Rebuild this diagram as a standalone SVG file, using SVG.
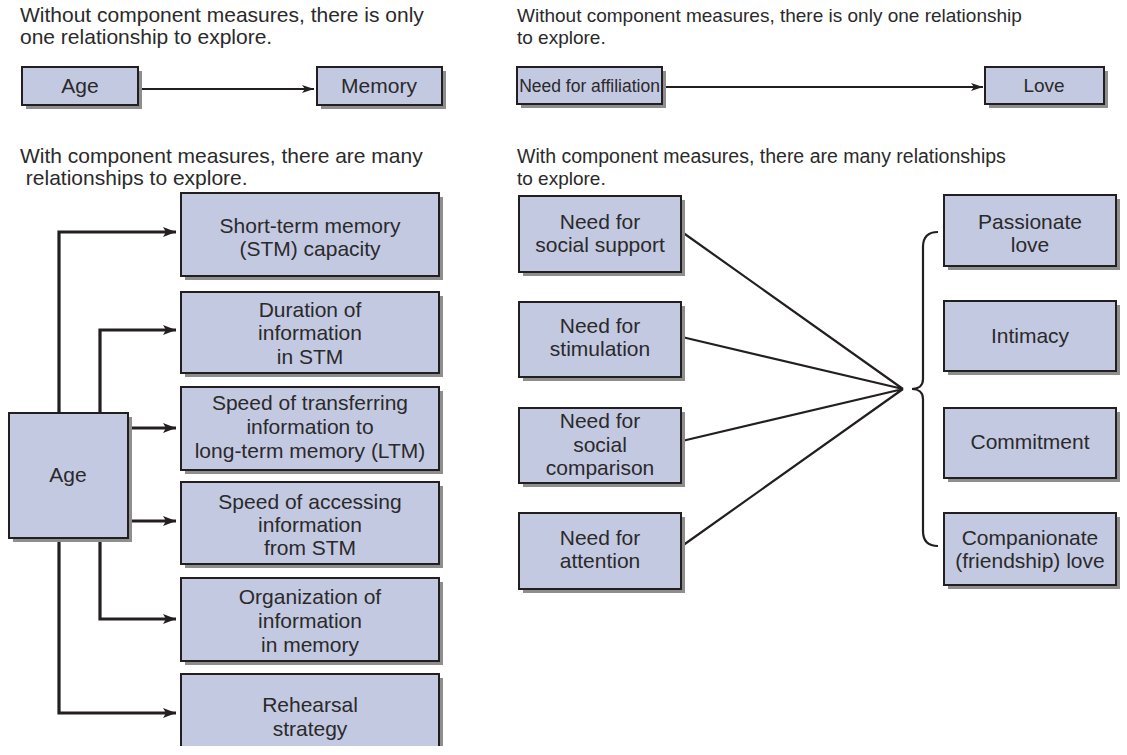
<svg xmlns="http://www.w3.org/2000/svg" width="1127" height="755" viewBox="0 0 1127 755">
<defs>
<style>
.t{font-family:"Liberation Sans",Arial,sans-serif;fill:#2a2a2a}
.l21{font-size:21px}
.l19{font-size:19px}
.c{text-anchor:middle}
.box{fill:#c4c9e2;stroke:#231f20;stroke-width:2}
.sh{fill:#8e8e8e}
.thick{fill:none;stroke:#231f20;stroke-width:3.2}
.thin{fill:none;stroke:#231f20;stroke-width:2.2}
</style>
<marker id="ah" viewBox="0 0 13 10" refX="13" refY="5" markerWidth="13" markerHeight="10" markerUnits="userSpaceOnUse" orient="auto"><path d="M0,0 L13,5 L0,10 L3,5 Z" fill="#231f20"/></marker>
<marker id="ahs" viewBox="0 0 12 8" refX="12" refY="4" markerWidth="12" markerHeight="8" markerUnits="userSpaceOnUse" orient="auto"><path d="M0,0 L12,4 L0,8 L3,4 Z" fill="#231f20"/></marker>
</defs>
<rect width="1127" height="755" fill="#ffffff"/>

<g id="headers">
<text class="t l21" x="20" y="22">Without component measures, there is only</text>
<text class="t l21" x="20" y="44">one relationship to explore.</text>
<text class="t l19" x="517" y="22">Without component measures, there is only one relationship</text>
<text class="t l19" x="517" y="44">to explore.</text>
<text class="t l21" x="20" y="163">With component measures, there are many</text>
<text class="t l21" x="20" y="185" xml:space="preserve"> relationships to explore.</text>
<text class="t l19" x="517" y="163" style="font-size:19.5px">With component measures, there are many relationships</text>
<text class="t l19" x="517" y="185">to explore.</text>
</g>

<g id="connectors">
<path class="thin" d="M138,89 H314" marker-end="url(#ahs)"/>
<path class="thin" d="M662,87 H983" marker-end="url(#ahs)"/>
<path class="thick" d="M59,413 V232 H176" marker-end="url(#ah)"/>
<path class="thick" d="M100,413 V330 H176" marker-end="url(#ah)"/>
<path class="thick" d="M128,428 H176" marker-end="url(#ah)"/>
<path class="thick" d="M128,521 H176" marker-end="url(#ah)"/>
<path class="thick" d="M100,538 V619 H176" marker-end="url(#ah)"/>
<path class="thick" d="M59,538 V713 H176" marker-end="url(#ah)"/>
<path class="thin" d="M682,232 L903,389 M682,337 L903,389 M682,441 L903,389 M682,546 L903,389"/>
<path class="thin" d="M938,232 C928,232 923,237 923,247 V379 C923,386 918,389 912,389 C918,389 923,392 923,399 V531 C923,541 928,546 938,546"/>
</g>

<g id="n-age-top"><rect class="sh" x="26" y="71" width="116" height="38"/><rect class="box" x="22" y="67" width="116" height="38"/><text class="t l21 c" x="80" y="93">Age</text></g>
<g id="n-memory"><rect class="sh" x="321" y="71" width="125" height="38"/><rect class="box" x="317" y="67" width="125" height="38"/><text class="t l21 c" x="379" y="93">Memory</text></g>
<g id="n-affiliation"><rect class="sh" x="521" y="71" width="145" height="37"/><rect class="box" x="517" y="67" width="145" height="37"/><text class="t c" style="font-size:17.5px" x="589.5" y="92">Need for affiliation</text></g>
<g id="n-love"><rect class="sh" x="989" y="71" width="119" height="37"/><rect class="box" x="985" y="67" width="119" height="37"/><text class="t l19 c" x="1044" y="92">Love</text></g>

<g id="n-age"><rect class="sh" x="13" y="417" width="119" height="125"/><rect class="box" x="9" y="413" width="119" height="125"/><text class="t l21 c" x="68" y="482">Age</text></g>
<g id="n-stm"><rect class="sh" x="185" y="197" width="258" height="83"/><rect class="box" x="181" y="193" width="258" height="83"/><text class="t l21 c" x="310" y="233">Short-term memory</text><text class="t l21 c" x="310" y="256">(STM) capacity</text></g>
<g id="n-duration"><rect class="sh" x="185" y="296" width="258" height="81"/><rect class="box" x="181" y="292" width="258" height="81"/><text class="t l21 c" x="310" y="317">Duration of</text><text class="t l21 c" x="310" y="340">information</text><text class="t l21 c" x="310" y="364">in STM</text></g>
<g id="n-transfer"><rect class="sh" x="185" y="391" width="258" height="83"/><rect class="box" x="181" y="387" width="258" height="83"/><text class="t l21 c" x="310" y="410">Speed of transferring</text><text class="t l21 c" x="310" y="434">information to</text><text class="t l21 c" x="310" y="458">long-term memory (LTM)</text></g>
<g id="n-access"><rect class="sh" x="185" y="486" width="258" height="82"/><rect class="box" x="181" y="482" width="258" height="82"/><text class="t l21 c" x="310" y="509">Speed of accessing</text><text class="t l21 c" x="310" y="532">information</text><text class="t l21 c" x="310" y="555">from STM</text></g>
<g id="n-organization"><rect class="sh" x="185" y="582" width="258" height="83"/><rect class="box" x="181" y="578" width="258" height="83"/><text class="t l21 c" x="310" y="604">Organization of</text><text class="t l21 c" x="310" y="628">information</text><text class="t l21 c" x="310" y="652">in memory</text></g>
<g id="n-rehearsal"><rect class="sh" x="185" y="678" width="258" height="68"/><rect x="181" y="674" width="258" height="72" fill="#c4c9e2"/><path d="M181,746 V674 H439 V746" fill="none" stroke="#231f20" stroke-width="2"/><text class="t l21 c" x="310" y="712">Rehearsal</text><text class="t l21 c" x="310" y="736">strategy</text></g>

<g id="n-support"><rect class="sh" x="523" y="200" width="162" height="76"/><rect class="box" x="519" y="196" width="162" height="76"/><text class="t l21 c" x="600" y="229">Need for</text><text class="t l21 c" x="600" y="252">social support</text></g>
<g id="n-stimulation"><rect class="sh" x="523" y="306" width="162" height="75"/><rect class="box" x="519" y="302" width="162" height="75"/><text class="t l21 c" x="600" y="333">Need for</text><text class="t l21 c" x="600" y="356">stimulation</text></g>
<g id="n-comparison"><rect class="sh" x="523" y="412" width="162" height="75"/><rect class="box" x="519" y="408" width="162" height="75"/><text class="t l21 c" x="600" y="428">Need for</text><text class="t l21 c" x="600" y="452">social</text><text class="t l21 c" x="600" y="475">comparison</text></g>
<g id="n-attention"><rect class="sh" x="523" y="517" width="162" height="76"/><rect class="box" x="519" y="513" width="162" height="76"/><text class="t l21 c" x="600" y="545">Need for</text><text class="t l21 c" x="600" y="568">attention</text></g>

<g id="n-passionate"><rect class="sh" x="948" y="199" width="172" height="71"/><rect class="box" x="944" y="195" width="172" height="71"/><text class="t l21 c" x="1030" y="229">Passionate</text><text class="t l21 c" x="1030" y="252">love</text></g>
<g id="n-intimacy"><rect class="sh" x="948" y="305" width="172" height="70"/><rect class="box" x="944" y="301" width="172" height="70"/><text class="t l21 c" x="1030" y="343">Intimacy</text></g>
<g id="n-commitment"><rect class="sh" x="948" y="412" width="172" height="70"/><rect class="box" x="944" y="408" width="172" height="70"/><text class="t l21 c" x="1030" y="449">Commitment</text></g>
<g id="n-companionate"><rect class="sh" x="948" y="517" width="172" height="72"/><rect class="box" x="944" y="513" width="172" height="72"/><text class="t l21 c" x="1030" y="545">Companionate</text><text class="t l21 c" x="1030" y="568">(friendship) love</text></g>
</svg>
